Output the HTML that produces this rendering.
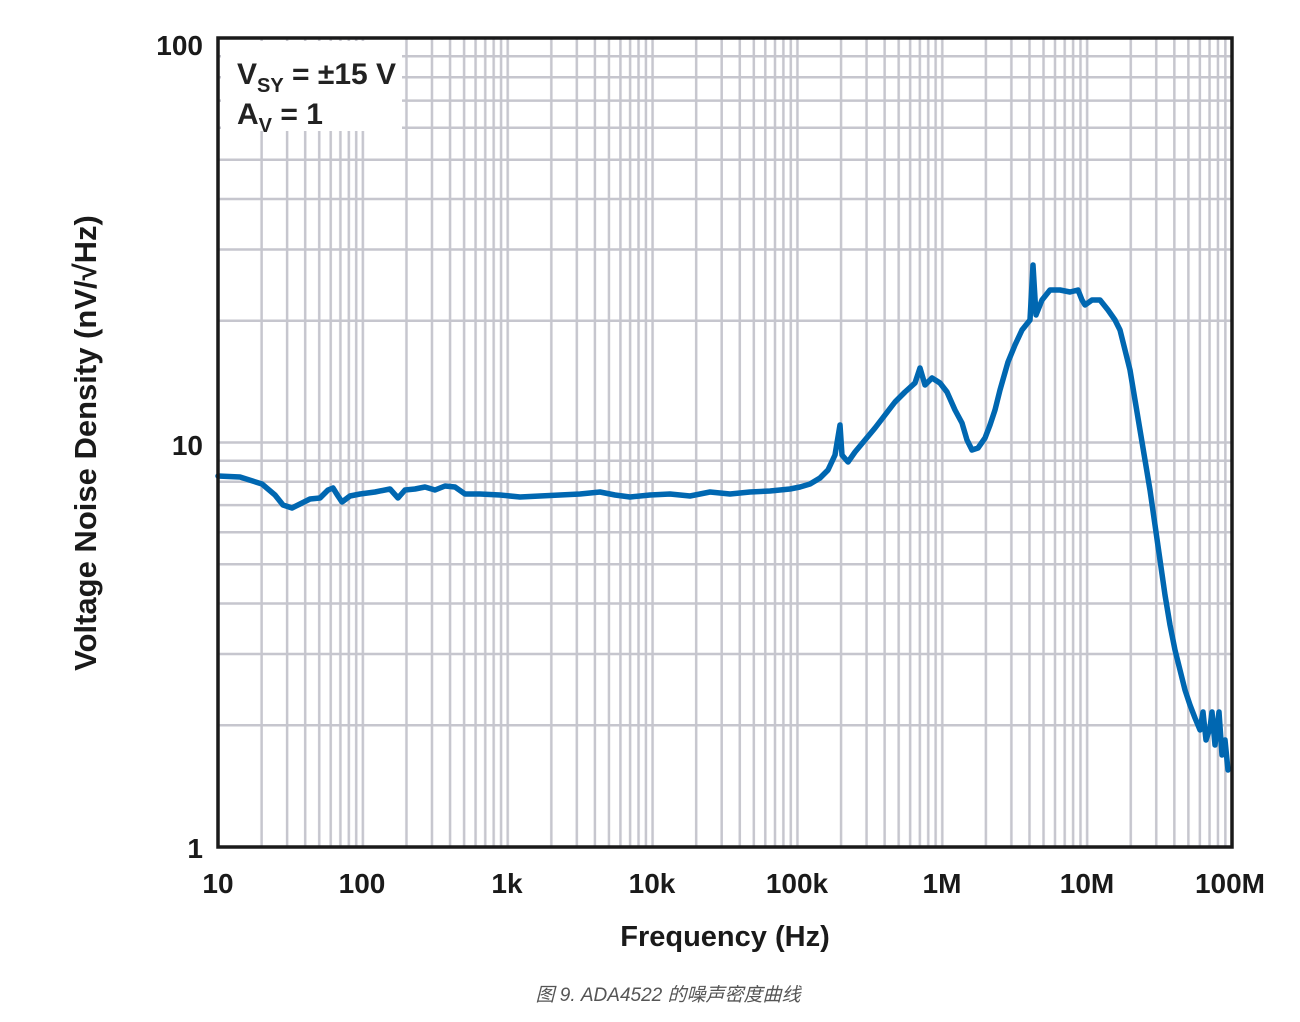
<!DOCTYPE html>
<html><head><meta charset="utf-8"><style>
body{margin:0;background:#fff;}
svg text{font-family:"Liberation Sans","Noto Sans CJK SC",sans-serif;}
</style></head><body>
<svg width="1300" height="1017" xmlns="http://www.w3.org/2000/svg">
<defs>
<pattern id="pv" patternUnits="userSpaceOnUse" x="218" y="38" width="144.857" height="809">
<g stroke="#c6c6ce" stroke-width="2.5">
<line x1="0" y1="0" x2="0" y2="809"/><line x1="144.857" y1="0" x2="144.857" y2="809"/>
<line x1="43.61" y1="0" x2="43.61" y2="809"/><line x1="69.11" y1="0" x2="69.11" y2="809"/>
<line x1="87.21" y1="0" x2="87.21" y2="809"/><line x1="101.25" y1="0" x2="101.25" y2="809"/>
<line x1="112.72" y1="0" x2="112.72" y2="809"/><line x1="122.42" y1="0" x2="122.42" y2="809"/>
<line x1="130.82" y1="0" x2="130.82" y2="809"/><line x1="138.22" y1="0" x2="138.22" y2="809"/>
</g></pattern>
<pattern id="ph" patternUnits="userSpaceOnUse" x="218" y="38" width="1014" height="404.5">
<g stroke="#c6c6ce" stroke-width="2.5">
<line x1="0" y1="0" x2="1014" y2="0"/><line x1="0" y1="404.5" x2="1014" y2="404.5"/>
<line x1="0" y1="282.73" x2="1014" y2="282.73"/><line x1="0" y1="211.51" x2="1014" y2="211.51"/>
<line x1="0" y1="160.97" x2="1014" y2="160.97"/><line x1="0" y1="121.77" x2="1014" y2="121.77"/>
<line x1="0" y1="89.74" x2="1014" y2="89.74"/><line x1="0" y1="62.66" x2="1014" y2="62.66"/>
<line x1="0" y1="39.2" x2="1014" y2="39.2"/><line x1="0" y1="18.31" x2="1014" y2="18.31"/>
</g></pattern>
</defs>
<rect x="218" y="38" width="1014" height="809" fill="url(#pv)"/>
<rect x="218" y="38" width="1014" height="809" fill="url(#ph)"/>
<rect x="221" y="41" width="181" height="90" fill="#fff"/>
<text x="237" y="84" font-size="30" font-weight="bold" fill="#222">V<tspan font-size="20" dy="8">SY</tspan><tspan dy="-8"> = ±15 V</tspan></text>
<text x="237" y="124" font-size="30" font-weight="bold" fill="#222">A<tspan font-size="20" dy="8">V</tspan><tspan dy="-8"> = 1</tspan></text>
<polyline fill="none" stroke="#0067b1" stroke-width="5.5" stroke-linejoin="round" stroke-linecap="round" points="218,476 240,477 262,484 275,495 283,505 292,508 300,504 310,499 320,498 328,490 333,488 338,496 342,502 350,496 360,494 375,492 390,489 398,498 405,490 415,489 425,487 435,490 445,486 455,487 465,494 480,494 500,495 520,497 540,496 560,495 580,494 600,492 615,495 630,497 650,495 670,494 690,496 710,492 730,494 750,492 770,491 790,489 800,487 810,484 820,478 828,470 835,455 840,425 842,455 848,462 855,452 865,440 875,428 885,415 895,402 905,392 915,383 920,368 925,385 932,378 940,383 947,392 955,410 962,423 967,440 972,450 978,448 985,438 990,425 995,410 1000,390 1008,362 1015,345 1022,330 1030,320 1033,265 1036,315 1042,300 1050,290 1060,290 1070,292 1078,290 1082,300 1085,305 1092,300 1100,300 1108,310 1115,320 1120,330 1125,350 1130,370 1135,400 1140,430 1145,460 1150,490 1155,525 1160,560 1165,595 1170,625 1175,650 1180,670 1185,690 1190,705 1195,718 1200,730 1203,712 1206,740 1210,728 1212,712 1215,745 1219,712 1222,755 1225,740 1228,770"/>
<rect x="218" y="38" width="1014" height="809" fill="none" stroke="#1a1a1a" stroke-width="3.5"/>
<g font-size="28" font-weight="bold" fill="#1a1a1a" text-anchor="middle">
<text x="218" y="893">10</text><text x="362" y="893">100</text><text x="507" y="893">1k</text>
<text x="652" y="893">10k</text><text x="797" y="893">100k</text><text x="942" y="893">1M</text>
<text x="1087" y="893">10M</text><text x="1230" y="893">100M</text>
</g>
<g font-size="28" font-weight="bold" fill="#1a1a1a" text-anchor="end">
<text x="203" y="55">100</text><text x="203" y="455">10</text><text x="203" y="858">1</text>
</g>
<text x="725" y="946" font-size="29" font-weight="bold" fill="#1a1a1a" text-anchor="middle">Frequency (Hz)</text>
<text transform="translate(96,443) rotate(-90)" font-size="31" font-weight="bold" fill="#1a1a1a" text-anchor="middle">Voltage Noise Density (nV/√Hz)</text>
<text x="668" y="1001" font-size="19" font-style="italic" fill="#555" text-anchor="middle">图 9. ADA4522 的噪声密度曲线</text>
</svg>
</body></html>
